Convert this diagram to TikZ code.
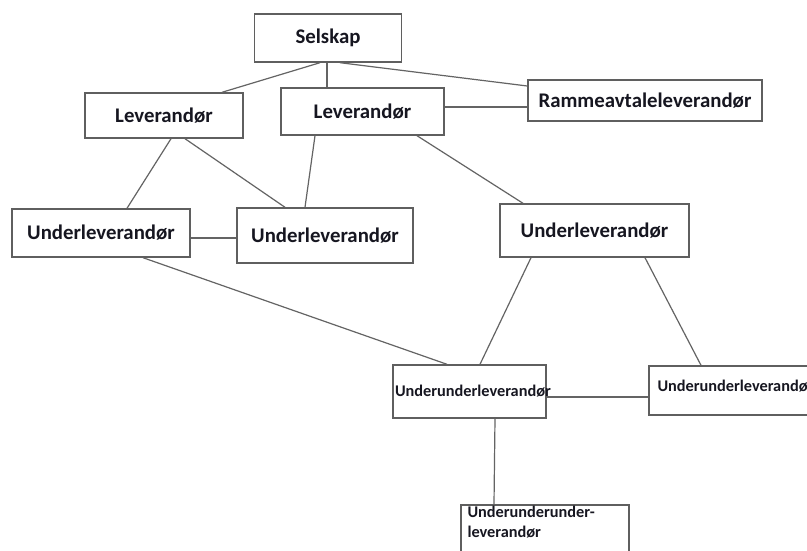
\documentclass[tikz,border=0pt]{standalone}
\usepackage{fontspec}
\setmainfont{Carlito}
\usetikzlibrary{calc}
\definecolor{boxgray}{RGB}{95,95,95}
\definecolor{linegray}{RGB}{100,100,100}
\definecolor{txt}{RGB}{22,22,32}
\begin{document}
\begin{tikzpicture}[x=1pt,y=-1pt,
  box/.style={draw=boxgray, line width=1.4pt, inner sep=0pt, text=txt,
    font=\fontsize{20.8}{23}\selectfont\bfseries},
  smallbox/.style={draw=boxgray, line width=1.4pt, inner ysep=0pt, text=txt,
    font=\fontsize{16.3}{20}\selectfont\bfseries, align=left},
  conn/.style={draw=linegray, line width=1.2pt}]
\useasboundingbox (0,0) rectangle (807,551);
\clip (0,0) rectangle (807,551);
\fill[white] (0,0) rectangle (807,551);

\node[box, minimum width=147pt, minimum height=48pt] (sel) at (328,38) {Selskap};
\node[box, minimum width=163pt, minimum height=47pt] (lev2) at (362.5,111.5) {Leverandør};
\node[box, minimum width=234pt, minimum height=41pt] (ram) at (645,100.5) {Rammeavtaleleverandør};
\node[box, minimum width=158pt, minimum height=45pt] (lev1) at (164,115.5) {Leverandør};
\node[box, minimum width=178pt, minimum height=48pt] (ul1) at (101,233) {Underleverandør};
\node[box, minimum width=176pt, minimum height=55pt] (ul2) at (325,235.5) {Underleverandør};
\node[box, minimum width=189pt, minimum height=53pt] (ul3) at (594.5,230.5) {Underleverandør};
\node[smallbox, inner xsep=2pt, text width=149pt, minimum height=53pt] (uu1) at (469.5,391.5) {Underunderleverandør};
\node[draw=boxgray, line width=1.4pt, minimum width=170pt, minimum height=49pt, inner sep=0pt] (uu2) at (734,390.5) {};
\node[anchor=west, inner sep=0pt, text=txt, font=\fontsize{16.3}{20}\selectfont\bfseries] (uu2t) at ($(uu2.west)+(9,-4)$) {Underunderleverandør};
\node[draw=boxgray, line width=1.4pt, minimum width=168pt, minimum height=60pt, inner sep=0pt] (uuu) at (545,535) {};
\node[anchor=north west, inner sep=0pt, text=txt, align=left,
  font=\fontsize{16.3}{20}\selectfont\bfseries] (uuut) at ($(uuu.north west)+(7,2)$) {Underunderunder-\\leverandør};

\draw[conn] ($(sel.south)+(-1,0)$) -- ($(lev2.north)+(-35.5,0)$);
\draw[conn] ($(sel.south)+(-8,0)$) -- ($(lev1.north)+(58,0)$);
\draw[conn] ($(sel.south)+(12,0)$) -- ($(ram.west)+(0,-14.5)$);
\draw[conn] ($(lev2.east)+(0,-4.5)$) -- ($(ram.west)+(0,6.5)$);
\draw[conn] ($(lev1.south)+(7,0)$) -- ($(ul1.north)+(26,0)$);
\draw[conn] ($(lev1.south)+(21,0)$) -- ($(ul2.north)+(-40,0)$);
\draw[conn] ($(lev2.south)+(-47.5,0)$) -- ($(ul2.north)+(-20,0)$);
\draw[conn] ($(lev2.south)+(54.5,0)$) -- ($(ul3.north)+(-71.5,0)$);
\draw[conn] ($(ul1.east)+(0,5)$) -- ($(ul2.west)+(0,2.5)$);
\draw[conn] ($(ul1.south)+(42,0)$) -- ($(uu1.north)+(-22.5,0)$);
\draw[conn] ($(ul3.south)+(-63.5,0)$) -- ($(uu1.north)+(10.5,0)$);
\draw[conn] ($(ul3.south)+(50.5,0)$) -- ($(uu2.north)+(-33,0)$);
\draw[conn] ($(uu1.east)+(0,5.5)$) -- ($(uu2.west)+(0,6.5)$);
\draw[conn] ($(uu1.south)+(25.5,0)$) -- ($(uuu.north)+(-51,0)$);
\end{tikzpicture}
\end{document}
